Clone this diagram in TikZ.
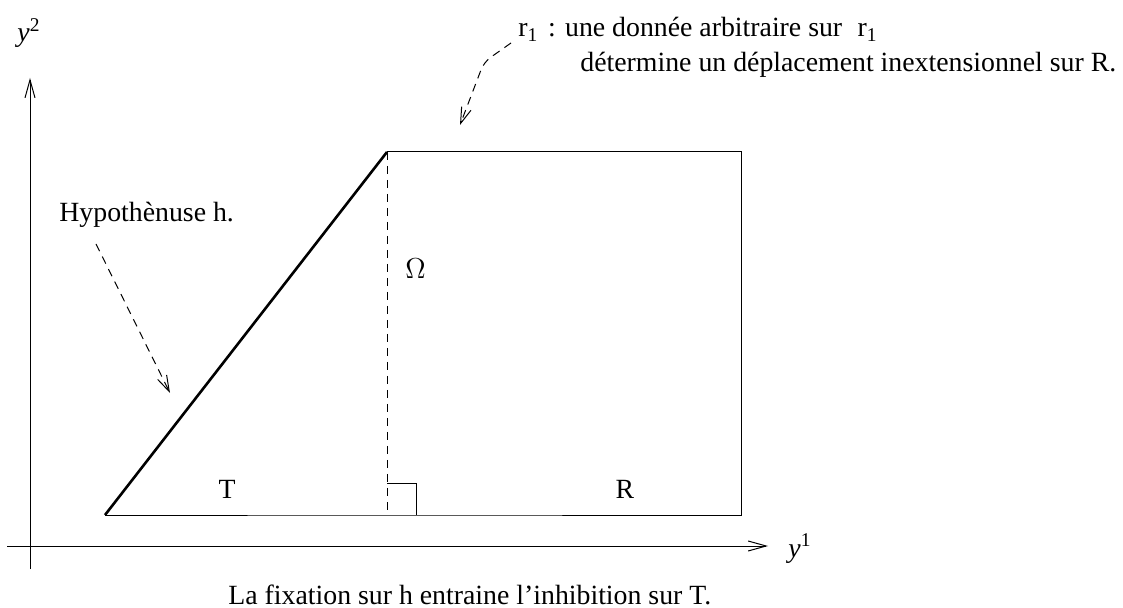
\documentclass[tikz,border=0pt]{standalone}
\usepackage{fontspec}
\setmainfont{Liberation Serif}
\usetikzlibrary{arrows.meta,positioning,calc}
\tikzset{
  thinline/.style={line width=0.5pt},
  axisarrow/.style={thinline,-{Straight Barb[length=9pt,width=5pt]}},
  hintarrow/.style={thinline,dash pattern=on 4pt off 3pt,-{Straight Barb[length=8pt,width=5pt]}},
  lbl/.style={inner sep=0pt,anchor=base west}
}

\begin{document}
\begin{tikzpicture}[x=0.5pt,y=-0.5pt,font=\fontsize{13.9}{16}\selectfont]
\useasboundingbox (0,0) rectangle (1123,608);
\coordinate (xstart) at (7,546);
\coordinate (xend) at (768,546);
\coordinate (ystart) at (30,569);
\coordinate (yend) at (30,78);
\draw[axisarrow] (xstart) -- (xend);
\draw[axisarrow] (ystart) -- (yend);
\node[lbl] (ylabtwo) at (17,42) {\textit{y}\textsuperscript{2}};
\node[lbl] (ylabone) at (788,557) {\textit{y}\textsuperscript{1}};
\coordinate (A) at (105,515);
\coordinate (B) at (387,152);
\coordinate (C) at (387,515);
\coordinate (D) at (741,515);
\coordinate (E) at (741,152);
\draw[thinline] (A) -- (C) -- (D) -- (E) -- (B);
\draw[line width=1.3pt] (A) -- (B);
\draw[thinline,dash pattern=on 4pt off 3pt] (B) -- (C);
\draw[thinline] ($(C)+(0,-32)$) -- ($(C)+(29,-32)$) -- ($(C)+(29,0)$);
\node[lbl] (hyp) at (59,222) {Hypothènuse h.};
\coordinate (hypstart) at (96,244);
\coordinate (hyptip) at (170,393);
\draw[hintarrow] (hypstart) -- (hyptip);
\node[lbl] (omega) at (405,279) {$\Omega$};
\node[inner sep=0pt,anchor=base] (tlab) at (227,498) {T};
\node[inner sep=0pt,anchor=base] (rlab) at (625,498) {R};
\node[lbl] (rone) at (518,37) {r\textsubscript{1}\hspace{0.35em}: une donnée arbitraire sur \hspace{0.3em}r\textsubscript{1}};
\node[lbl] (rtwo) at (580,72) {détermine un déplacement inextensionnel sur R.};
\coordinate (rstart) at (511,43);
\coordinate (rbend) at (484,62);
\coordinate (rtip) at (460,125);
\draw[hintarrow,rounded corners=4pt] (rstart) -- (rbend) -- (rtip);
\node[lbl] (caption) at (228,604) {La fixation sur h entraine l’inhibition sur T.};
\end{tikzpicture}
\end{document}
